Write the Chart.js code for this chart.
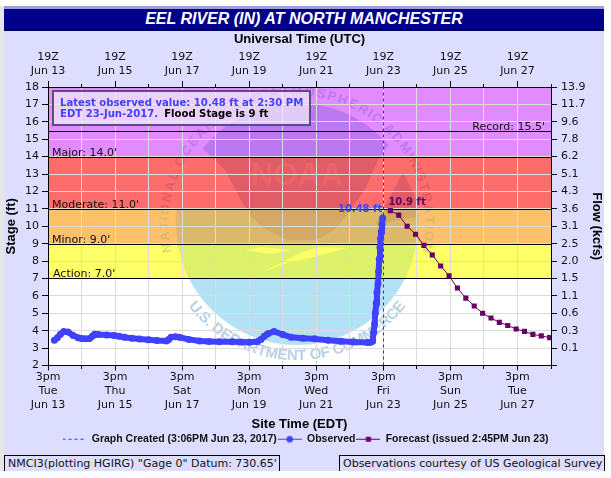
<!DOCTYPE html>
<html>
<head>
<meta charset="utf-8">
<title>Eel River (IN) at North Manchester</title>
<script src="https://cdn.jsdelivr.net/npm/chart.js@4"></script>
<style>
    html, body { margin: 0; padding: 0; background: #fff; width: 611px; height: 478px; overflow: hidden; }
    #strip { position: absolute; left: 0; top: 6px; width: 4px; height: 465px; background: #e6e6e6; }
    #panel { position: absolute; left: 4px; top: 6px; width: 600px; height: 465px; background: #ddddff; }
    #title {
        position: absolute; left: 4px; top: 6px; width: 600px; height: 20px;
        background: #00008b; border-top: 3px solid #9d9de0; border-bottom: 2px solid #000055;
        box-sizing: content-box; color: #fff; text-align: center;
        font: italic bold 16px/19px "Liberation Sans", sans-serif;
    }
    canvas { position: absolute; left: 0; top: 0; }
    .note {
        position: absolute; top: 455px; height: 15px; background: #ddddff;
        border: 1px solid #000; border-bottom: none; box-sizing: content-box;
        font: 11px/16px "DejaVu Sans", sans-serif; color: #111; padding-left: 3px; white-space: nowrap;
    }
</style>
</head>
<body>
<div id="strip"></div>
<div id="panel"></div>
<div id="title">EEL RIVER (IN) AT NORTH MANCHESTER</div>
<canvas id="hydrograph" width="611" height="478"></canvas>
<div class="note" style="left:4px;width:271px;">NMCI3(plotting HGIRG) "Gage 0" Datum: 730.65'</div>
<div class="note" style="left:339px;width:261px;">Observations courtesy of US Geological Survey</div>

<script>
// x values are days since 19Z Jun 13
const observed = [
    [0.19, 3.45], [0.28, 3.6], [0.37, 3.8], [0.47, 3.95], [0.6, 3.92], [0.75, 3.72], [0.9, 3.6],
    [1.0, 3.55], [1.12, 3.53], [1.24, 3.55], [1.32, 3.68], [1.39, 3.8], [1.5, 3.78], [1.75, 3.75],
    [1.98, 3.73], [2.12, 3.68], [2.28, 3.62], [2.5, 3.56], [2.73, 3.52], [3.0, 3.48], [3.25, 3.44],
    [3.53, 3.41], [3.6, 3.5], [3.67, 3.63], [3.8, 3.65], [3.92, 3.62], [4.2, 3.5], [4.52, 3.41],
    [4.8, 3.38], [5.11, 3.36], [5.5, 3.36], [5.75, 3.35], [6.0, 3.34], [6.25, 3.38], [6.35, 3.5],
    [6.45, 3.68], [6.55, 3.82], [6.74, 3.96], [7.0, 3.78], [7.25, 3.62], [7.6, 3.57], [7.95, 3.53],
    [8.35, 3.45], [8.74, 3.39], [9.1, 3.35], [9.53, 3.32], [9.62, 3.33], [9.68, 3.4], [9.71, 3.9],
    [9.74, 4.4], [9.76, 5.0], [9.79, 5.6], [9.81, 6.2], [9.84, 6.7], [9.86, 7.4], [9.88, 8.1],
    [9.9, 8.8], [9.92, 9.3], [9.94, 9.7], [9.96, 10.1], [9.98, 10.48]
];
const forecast = [
    [10.21, 10.9], [10.46, 10.64], [10.71, 10.0], [10.96, 9.54], [11.21, 8.9], [11.46, 8.35],
    [11.71, 7.72], [11.96, 7.15], [12.21, 6.45], [12.46, 5.87], [12.71, 5.42], [12.96, 5.0],
    [13.21, 4.73], [13.46, 4.48], [13.71, 4.3], [13.96, 4.1], [14.21, 3.96], [14.46, 3.79],
    [14.71, 3.7], [14.96, 3.6]
];
const flowLabels = {
    3: '0.1', 4: '0.3', 5: '0.6', 6: '1.1', 7: '1.5', 8: '2.0', 9: '2.5', 10: '3.1',
    11: '3.6', 12: '4.3', 13: '5.1', 14: '6.2', 15: '7.8', 16: '9.6', 17: '11.7', 18: '13.9'
};
const thresholds = [
    { stage: 7, label: "Action: 7.0'", x: 53 },
    { stage: 9, label: "Minor: 9.0'", x: 52 },
    { stage: 11, label: "Moderate: 11.0'", x: 52 },
    { stage: 14, label: "Major: 14.0'", x: 52 },
    { stage: 15.5, label: "Record: 15.5'", right: 545 }
];
const bands = [
    { lo: 2, hi: 7, bg: '#ffffff', disc: '#b2e2f6', dark: '#b2e2f6', text: '#b8d0e6' },
    { lo: 7, hi: 9, bg: '#ffff66', disc: '#dcf06a', dark: '#dcf06a', text: '#dcdc66' },
    { lo: 9, hi: 11, bg: '#ffc06c', disc: '#dcb86c', dark: '#d6a866', text: '#dcb86c' },
    { lo: 11, hi: 14, bg: '#ff6c6c', disc: '#ff6c6c', dark: '#e05c66', text: '#e05c66' },
    { lo: 14, hi: 18, bg: '#e08cff', disc: '#e08cff', dark: '#bc78f0', text: '#bc78f0' }
];
const utcDates = ['Jun 13', 'Jun 15', 'Jun 17', 'Jun 19', 'Jun 21', 'Jun 23', 'Jun 25', 'Jun 27'];
const weekdays = ['Tue', 'Thu', 'Sat', 'Mon', 'Wed', 'Fri', 'Sun', 'Tue'];

const axisFont = { family: 'DejaVu Sans', size: 11 };
const BLUE = '#4040ff', PURPLE = '#660066';

function polygon(ctx, pts) {
    ctx.beginPath();
    pts.forEach(function(p, i) { i ? ctx.lineTo(p[0], p[1]) : ctx.moveTo(p[0], p[1]); });
    ctx.closePath();
    ctx.fill();
}

// letters placed along a circle, a0 to a1 in degrees from 12 o'clock
function arcText(ctx, text, cx, cy, r, a0, a1, flip) {
    const widths = Array.from(text).map(c => ctx.measureText(c).width);
    const total = widths.reduce((a, b) => a + b, 0);
    let used = 0;
    Array.from(text).forEach(function(c, i) {
        const a = (a0 + (a1 - a0) * (used + widths[i] / 2) / total) * Math.PI / 180;
        used += widths[i];
        ctx.save();
        ctx.translate(cx + r * Math.sin(a), cy - r * Math.cos(a));
        ctx.rotate(flip ? a + Math.PI : a);
        ctx.fillText(c, 0, 0);
        ctx.restore();
    });
}

const CX = 297, CY = 224, R = 121;
const darkShape = [[195, 130], [202, 148], [225, 170], [238, 195], [250, 215], [263, 228], [287, 240], [317, 240],
    [337, 228], [350, 210], [365, 190], [378, 160], [392, 140], [392, 90], [195, 90]];
const darkWing = [[403, 172], [425, 215], [375, 225]];
const birdA = [[263, 272], [290, 262], [310, 258], [347, 248], [320, 247], [300, 253]];
const birdB = [[245, 250], [270, 254], [290, 250], [262, 247]];

const backdrop = {
    id: 'backdrop',
    beforeDraw: function(chart) {
        const ctx = chart.ctx, area = chart.chartArea, y = chart.scales.y;
        bands.forEach(function(b) {
            const top = y.getPixelForValue(b.hi), bottom = y.getPixelForValue(b.lo);
            ctx.save();
            ctx.beginPath();
            ctx.rect(area.left, top, area.right - area.left, bottom - top);
            ctx.clip();
            ctx.fillStyle = b.bg;
            ctx.fillRect(area.left, top, area.right - area.left, bottom - top);

            ctx.save();
            ctx.beginPath();
            ctx.arc(CX, CY, R, 0, Math.PI * 2);
            ctx.clip();
            ctx.fillStyle = b.disc;
            ctx.fillRect(CX - R, CY - R, R * 2, R * 2);
            ctx.fillStyle = b.dark;
            polygon(ctx, darkShape);
            polygon(ctx, darkWing);
            ctx.fillStyle = b.bg;
            polygon(ctx, birdA);
            polygon(ctx, birdB);
            ctx.restore();

            ctx.save();
            ctx.fillStyle = b.bg;
            ctx.globalAlpha = 0.45;
            ctx.font = 'bold 33px "Liberation Sans"';
            ctx.textAlign = 'center';
            ctx.textBaseline = 'alphabetic';
            ctx.translate(297, 185);
            ctx.scale(0.95, 0.95);
            ctx.fillText('NOAA', 0, 0);
            ctx.restore();

            ctx.fillStyle = b.text;
            ctx.textAlign = 'center';
            ctx.textBaseline = 'middle';
            ctx.font = 'bold 13px "Liberation Sans"';
            arcText(ctx, 'NATIONAL OCEANIC AND ATMOSPHERIC ADMINISTRATION', CX, CY, 132, -103, 103, false);
            ctx.font = 'bold 15px "Liberation Sans"';
            arcText(ctx, 'U.S. DEPARTMENT OF COMMERCE', CX, CY, 132, -127, -233, true);
            ctx.restore();
        });
    },
    beforeDatasetsDraw: function(chart) {
        const ctx = chart.ctx, area = chart.chartArea, y = chart.scales.y;
        ctx.save();
        ctx.font = '11px "DejaVu Sans"';
        ctx.textBaseline = 'alphabetic';
        thresholds.forEach(function(t) {
            const py = Math.round(y.getPixelForValue(t.stage)) + 0.5;
            ctx.strokeStyle = '#000';
            ctx.lineWidth = 1;
            ctx.beginPath();
            ctx.moveTo(area.left, py);
            ctx.lineTo(area.right, py);
            ctx.stroke();
            ctx.fillStyle = '#111';
            ctx.textAlign = t.right ? 'right' : 'left';
            ctx.fillText(t.label, t.right || t.x, py - 1.5);
        });
        ctx.restore();
    },
    afterDatasetsDraw: function(chart) {
        const ctx = chart.ctx, xs = chart.scales.x, y = chart.scales.y;
        const lastObs = observed[observed.length - 1], firstFc = forecast[0];
        ctx.save();
        ctx.textBaseline = 'alphabetic';
        ctx.font = 'bold 10px "DejaVu Sans"';
        ctx.textAlign = 'right';
        ctx.fillStyle = BLUE;
        ctx.fillText(lastObs[1] + ' ft', xs.getPixelForValue(lastObs[0]) - 0.5, y.getPixelForValue(lastObs[1]) - 6);
        ctx.textAlign = 'left';
        ctx.fillStyle = PURPLE;
        ctx.fillText(firstFc[1] + ' ft', xs.getPixelForValue(firstFc[0]) - 2, y.getPixelForValue(firstFc[1]) - 6);

        // latest observation callout
        ctx.fillStyle = 'rgba(240,236,250,0.72)';
        ctx.fillRect(53, 91, 257, 34);
        ctx.strokeStyle = '#5c4c80';
        ctx.lineWidth = 2;
        ctx.strokeRect(53, 91, 257, 34);
        ctx.font = 'bold 10.1px "DejaVu Sans"';
        ctx.fillStyle = BLUE;
        ctx.textAlign = 'left';
        ctx.fillText('Latest observed value: 10.48 ft at 2:30 PM', 60, 106);
        const second = 'EDT 23-Jun-2017.';
        ctx.fillText(second, 60, 117);
        ctx.fillStyle = '#000';
        ctx.fillText('Flood Stage is 9 ft', 60 + ctx.measureText(second).width + 6, 117);
        ctx.restore();
    }
};

// legend samples: line with the series marker on it
function legendIcon(color, kind) {
    const c = document.createElement('canvas');
    c.width = 24; c.height = 12;
    const g = c.getContext('2d');
    g.strokeStyle = color;
    g.fillStyle = color;
    g.lineWidth = 1;
    if (kind === 'dash') g.setLineDash([3, 3]);
    g.beginPath();
    g.moveTo(0, 6.5);
    g.lineTo(24, 6.5);
    g.stroke();
    if (kind === 'dot') { g.beginPath(); g.arc(12, 6.5, 3.2, 0, Math.PI * 2); g.fill(); }
    if (kind === 'square') g.fillRect(9.5, 4, 5, 5);
    return c;
}

const icons = {
    'Graph Created (3:06PM Jun 23, 2017)': legendIcon('#3030ff', 'dash'),
    'Observed': legendIcon(BLUE, 'dot'),
    'Forecast (issued 2:45PM Jun 23)': legendIcon(PURPLE, 'square')
};

function dayIndex(v) { return Math.round(v); }

new Chart(document.getElementById('hydrograph').getContext('2d'), {
    type: 'line',
    plugins: [backdrop],
    data: {
        datasets: [
            {
                label: 'Graph Created (3:06PM Jun 23, 2017)',
                data: [{ x: 10.004, y: 2 }, { x: 10.004, y: 18 }],
                borderColor: '#2828ff',
                borderWidth: 1,
                borderDash: [3, 3],
                pointRadius: 0,
                order: 3
            },
            {
                label: 'Observed',
                data: observed.map(p => ({ x: p[0], y: p[1] })),
                borderColor: BLUE,
                backgroundColor: BLUE,
                borderWidth: 6,
                pointRadius: 3.5,
                pointBorderWidth: 0,
                order: 2
            },
            {
                label: 'Forecast (issued 2:45PM Jun 23)',
                data: forecast.map(p => ({ x: p[0], y: p[1] })),
                borderColor: PURPLE,
                backgroundColor: PURPLE,
                borderWidth: 1,
                pointStyle: 'rect',
                pointRadius: 3.6,
                pointBorderWidth: 0,
                order: 1
            }
        ]
    },
    options: {
        responsive: false,
        animation: false,
        layout: { padding: { top: 32, bottom: 24, left: 0, right: 0 } },
        plugins: {
            tooltip: { enabled: false },
            legend: {
                position: 'bottom',
                onClick: null,
                labels: {
                    usePointStyle: true,
                    pointStyleWidth: 24,
                    padding: 1,
                    color: '#111',
                    font: { family: 'Liberation Sans', size: 10.5, weight: 'bold' },
                    generateLabels: function(chart) {
                        return chart.data.datasets.map(function(ds, i) {
                            return {
                                text: ds.label,
                                pointStyle: icons[ds.label],
                                datasetIndex: i,
                                fontColor: '#111',
                                lineWidth: 0,
                                strokeStyle: 'transparent',
                                fillStyle: 'transparent'
                            };
                        });
                    }
                }
            }
        },
        scales: {
            x: {
                type: 'linear',
                position: 'bottom',
                min: 0,
                max: 15,
                afterFit: function(s) { s.height = 67; },
                afterBuildTicks: function(s) {
                    s.ticks = Array.from({ length: 16 }, (_, i) => ({ value: i }));
                },
                grid: {
                    color: '#dcdcdc',
                    lineWidth: 1,
                    tickColor: '#000',
                    tickLength: 5,
                    tickBorderDash: function(c) { return c.tick && c.tick.value % 2 ? [3, 100] : []; }
                },
                border: { color: '#000', width: 1 },
                ticks: {
                    autoSkip: false,
                    maxRotation: 0,
                    padding: 0,
                    color: '#111',
                    font: Object.assign({ lineHeight: 1.27 }, axisFont),
                    callback: function(v) {
                        const d = dayIndex(v);
                        return d % 2 ? '' : ['3pm', weekdays[d / 2], utcDates[d / 2]];
                    }
                },
                title: {
                    display: true,
                    text: 'Site Time (EDT)',
                    color: '#000',
                    font: { family: 'Liberation Sans', size: 13, weight: 'bold' },
                    padding: { top: -3, bottom: 0 }
                }
            },
            x2: {
                type: 'linear',
                position: 'top',
                min: 0,
                max: 15,
                afterFit: function(s) { s.height = 55; },
                afterBuildTicks: function(s) {
                    s.ticks = Array.from({ length: 16 }, (_, i) => ({ value: i }));
                },
                grid: {
                    drawOnChartArea: false,
                    tickColor: '#000',
                    tickLength: 6,
                    tickBorderDash: function(c) { return c.tick && c.tick.value % 2 ? [0, 3, 3, 100] : []; }
                },
                border: { color: '#000', width: 1 },
                ticks: {
                    autoSkip: false,
                    maxRotation: 0,
                    padding: 3,
                    color: '#111',
                    font: Object.assign({ lineHeight: 1.27 }, axisFont),
                    callback: function(v) {
                        const d = dayIndex(v);
                        return d % 2 ? '' : ['19Z', utcDates[d / 2]];
                    }
                },
                title: {
                    display: true,
                    text: 'Universal Time (UTC)',
                    color: '#000',
                    font: { family: 'Liberation Sans', size: 13, weight: 'bold' },
                    padding: { top: 0, bottom: 0 }
                }
            },
            y: {
                position: 'left',
                min: 2,
                max: 18,
                afterFit: function(s) { s.width = 48; },
                grid: { color: '#dcdcdc', tickColor: '#000', tickLength: 6 },
                border: { color: '#000', width: 1 },
                ticks: { stepSize: 1, autoSkip: false, padding: 3, color: '#111', font: axisFont },
                title: {
                    display: true,
                    text: 'Stage (ft)',
                    color: '#000',
                    font: { family: 'Liberation Sans', size: 13, weight: 'bold' },
                    padding: { top: 4, bottom: 0 }
                }
            },
            y2: {
                position: 'right',
                min: 2,
                max: 18,
                afterFit: function(s) { s.width = 60; },
                grid: { drawOnChartArea: false, tickColor: '#000', tickLength: 6 },
                border: { color: '#000', width: 1 },
                ticks: {
                    stepSize: 1,
                    autoSkip: false,
                    padding: 4,
                    color: '#111',
                    font: axisFont,
                    callback: function(v) { return flowLabels[v] || ''; }
                },
                title: {
                    display: true,
                    text: 'Flow (kcfs)',
                    color: '#000',
                    font: { family: 'Liberation Sans', size: 13, weight: 'bold' },
                    padding: { top: 7, bottom: 0 }
                }
            }
        }
    }
});
</script>
</body>
</html>
